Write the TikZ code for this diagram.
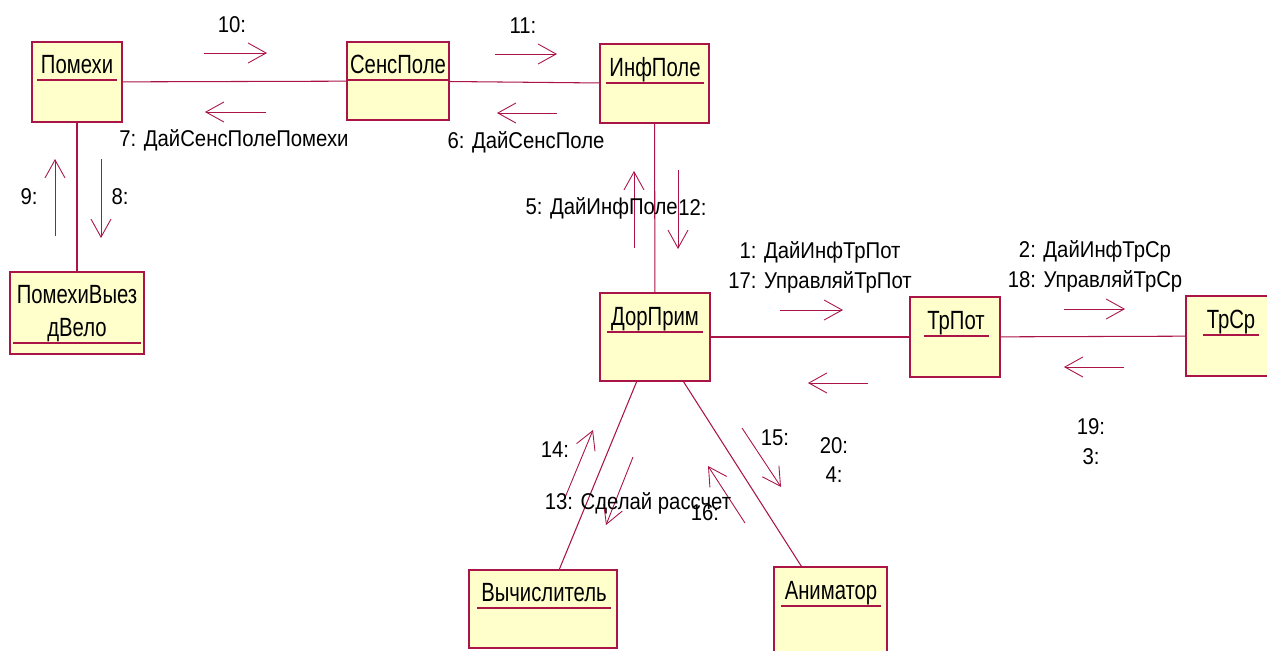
\documentclass[tikz,border=0pt]{standalone}
\usepackage{fontspec}
\setmainfont{Liberation Sans}
\newfontfamily\labfont{Liberation Sans}[FakeStretch=0.89]
\newfontfamily\namefont{Liberation Sans}[FakeStretch=0.77]
\usetikzlibrary{arrows.meta, positioning, calc}
\definecolor{roseline}{RGB}{170, 20, 70}
\definecolor{rosefill}{RGB}{255, 255, 204}

\begin{document}
\begin{tikzpicture}[x=0.02cm, y=-0.02cm,
    obj/.style={draw=roseline, fill=rosefill, line width=0.8pt, inner sep=0pt},
    objname/.style={anchor=south, inner xsep=2pt, inner ysep=0pt, text depth=0.12cm, align=center, font=\fontsize{15}{18.8}\selectfont\namefont},
    uline/.style={roseline, line width=0.6pt},
    link/.style={roseline, line width=0.6pt},
    msg/.style={roseline, line width=0.5pt, -{Straight Barb[length=3.6mm, width=4mm]}},
    lab/.style={inner sep=0pt, align=center, font=\fontsize{13}{17}\selectfont\labfont}]
    \useasboundingbox (0,0) rectangle (1267,650);

    % Objects
    \node[obj, minimum width=1.8cm, minimum height=1.6cm] (pomehi) at (77,82) {};
    \node[objname] (pomehiN) at (77,80) {Помехи};
    \node[obj, minimum width=2.04cm, minimum height=1.56cm] (sens) at (398,81) {};
    \node[objname] (sensN) at (398,80) {СенсПоле};
    \node[obj, minimum width=2.18cm, minimum height=1.58cm] (inf) at (654.5,83.5) {};
    \node[objname] (infN) at (655,83) {ИнфПоле};
    \node[obj, minimum width=2.68cm, minimum height=1.64cm] (pvv) at (77,313) {};
    \node[objname] (pvvN) at (77,343) {ПомехиВыез\\дВело};
    \node[obj, minimum width=2.2cm, minimum height=1.76cm] (dor) at (655,337) {};
    \node[objname] (dorN) at (655,332) {ДорПрим};
    \node[obj, minimum width=1.8cm, minimum height=1.6cm] (trpot) at (955,337) {};
    \node[objname] (trpotN) at (956,336) {ТрПот};
    \node[obj, minimum width=1.8cm, minimum height=1.6cm] (trsr) at (1231,336) {};
    \node[objname] (trsrN) at (1231,335) {ТрСр};
    \node[obj, minimum width=2.96cm, minimum height=1.56cm] (vych) at (543,609) {};
    \node[objname] (vychN) at (544,608) {Вычислитель};
    \node[obj, minimum width=2.26cm, minimum height=1.8cm] (anim) at (830.5,612) {};
    \node[objname] (animN) at (831,606) {Аниматор};

    % Underlined names
    \foreach \n in {pomehiN, sensN, infN, pvvN, dorN, trpotN, trsrN, vychN, animN}
        \draw[uline] (\n.south west) -- (\n.south east);

    % Links
    \draw[link] (pomehi) -- (sens);
    \draw[link] (sens) -- (inf);
    \draw[link] (pomehi) -- (pvv);
    \draw[link] (inf) -- (dor);
    \draw[link] (dor) -- (trpot);
    \draw[link] (trpot) -- (trsr);
    \draw[link] (dor) -- (vych);
    \draw[link] (dor) -- (anim);

    % Message ends
    \coordinate (m10a) at (204,53);   \coordinate (m10b) at (267,53);
    \coordinate (m7a) at (266,112);   \coordinate (m7b) at (205,112);
    \coordinate (m11a) at (495,54);   \coordinate (m11b) at (557,54);
    \coordinate (m6a) at (557,113);   \coordinate (m6b) at (497,113);
    \coordinate (m9a) at (55,236);    \coordinate (m9b) at (55,159);
    \coordinate (m8a) at (101,159);   \coordinate (m8b) at (101,238);
    \coordinate (m5a) at (634,248);   \coordinate (m5b) at (634,171);
    \coordinate (m12a) at (678,170);  \coordinate (m12b) at (678,249);
    \coordinate (m1a) at (780,310);   \coordinate (m1b) at (843,310);
    \coordinate (m20a) at (868,383);  \coordinate (m20b) at (808,383);
    \coordinate (m2a) at (1064,309);  \coordinate (m2b) at (1125,309);
    \coordinate (m19a) at (1124,367); \coordinate (m19b) at (1064,367);
    \coordinate (m14a) at (564,500);  \coordinate (m14b) at (593,430);
    \coordinate (m13a) at (633,457);  \coordinate (m13b) at (606,525);
    \coordinate (m16a) at (745,523);  \coordinate (m16b) at (708,466);
    \coordinate (m15a) at (742,428);  \coordinate (m15b) at (781,487);

    % Messages
    \foreach \m in {m10, m7, m11, m6, m9, m8, m5, m12, m1, m20, m2, m19, m14, m13, m16, m15}
        \draw[msg] (\m a) -- (\m b);

    % Message labels
    \node[lab] (l10) at (232,25) {10:};
    \node[lab] (l7) at (234,140) {7: ДайСенсПолеПомехи};
    \node[lab] (l11) at (523,26) {11:};
    \node[lab] (l6) at (526,142) {6: ДайСенсПоле};
    \node[lab] (l9) at (29,197) {9:};
    \node[lab] (l8) at (120,197) {8:};
    \node[lab, anchor=east] (l5) at (678,208) {5: ДайИнфПоле};
    \node[lab, anchor=west] (l12) at (l5.east) {12:};
    \node[lab] (l1) at (820,267) {1: ДайИнфТрПот\\17: УправляйТрПот};
    \node[lab] (l2) at (1095,266) {2: ДайИнфТрСр\\18: УправляйТрСр};
    \node[lab] (l20) at (834,460) {20:\\4:};
    \node[lab] (l19) at (1091,442) {19:\\3:};
    \node[lab] (l14) at (555,450) {14:};
    \node[lab] (l13) at (638,503) {13: Сделай рассчет};
    \node[lab] (l16) at (705,513) {16:};
    \node[lab] (l15) at (775,438) {15:};
\end{tikzpicture}
\end{document}
